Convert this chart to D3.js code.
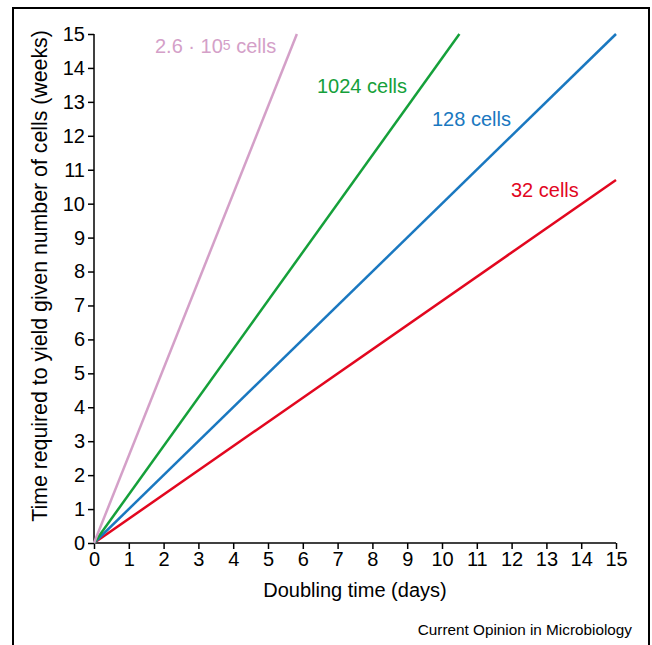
<!DOCTYPE html>
<html><head><meta charset="utf-8">
<script src="https://cdn.jsdelivr.net/npm/d3@7"></script>
<style>body{margin:0;background:#fff;} text{font-family:"Liberation Sans",Arial,sans-serif;}</style>
</head><body>
<svg id="c" width="652" height="645"></svg>
<script>
const xTicks = [0,1,2,3,4,5,6,7,8,9,10,11,12,13,14,15];
const yTicks = [0,1,2,3,4,5,6,7,8,9,10,11,12,13,14,15];
const seriesNames = ["32 cells","128 cells","1024 cells","2.6 · 10^5 cells"];
const series32   = [[0,0],[15,10.7]];
const series128  = [[0,0],[15,15]];
const series1024 = [[0,0],[10.5,15]];
const series26e5 = [[0,0],[5.83,15]];
const colors = ["#e2071f","#1a78c0","#15a03a","#d4a0c8"];

const svg = d3.select("#c");
svg.append("rect").attr("x",13).attr("y",8).attr("width",636).attr("height",650)
  .attr("fill","none").attr("stroke","#000").attr("stroke-width",2);

const x = d3.scaleLinear().domain([0,15]).range([94,616]);
const y = d3.scaleLinear().domain([0,15]).range([543,34]);

const xa = svg.append("g").attr("transform","translate(0,543)")
  .call(d3.axisBottom(x).tickValues(xTicks).tickSize(6).tickPadding(3).tickFormat(d3.format("d")));
const ya = svg.append("g").attr("transform","translate(94,0)")
  .call(d3.axisLeft(y).tickValues(yTicks).tickSize(6).tickPadding(3).tickFormat(d3.format("d")));
[xa,ya].forEach(a=>{
  a.select(".domain").attr("stroke","#000").attr("stroke-width",1.5);
  a.selectAll(".tick line").attr("stroke","#000").attr("stroke-width",1.5);
  a.selectAll(".tick text").attr("font-size",20).attr("fill","#000").style("font-family","Liberation Sans, Arial, sans-serif");
});
xa.select(".domain").attr("d","M94,0H616");
ya.select(".domain").attr("d","M0,543V34");

const line = d3.line().x(d=>x(d[0])).y(d=>y(d[1]));
const all = [series32,series128,series1024,series26e5];
all.forEach((s,i)=>{
  svg.append("path").attr("d",line(s)).attr("fill","none")
    .attr("stroke",colors[i]).attr("stroke-width",2.5);
});

// labels
const labels = [
  {t:"32 cells", x:511, y:197, c:colors[0]},
  {t:"128 cells", x:432, y:126, c:colors[1]},
  {t:"1024 cells", x:317, y:93, c:colors[2]},
];
labels.forEach(l=>{
  svg.append("text").attr("x",l.x).attr("y",l.y).attr("font-size",20).attr("fill",l.c).text(l.t);
});
const pl = svg.append("text").attr("x",155).attr("y",53).attr("font-size",20).attr("fill",colors[3]);
pl.append("tspan").text("2.6 · 10");
pl.append("tspan").attr("font-size",14).attr("dy",-3).text("5");
pl.append("tspan").attr("dy",3).text(" cells");

svg.append("text").attr("x",355).attr("y",597).attr("text-anchor","middle").attr("font-size",20).attr("fill","#000").text("Doubling time (days)");
svg.append("text").attr("transform","translate(47,276) rotate(-90)").attr("text-anchor","middle").attr("font-size",21.3).attr("fill","#000").text("Time required to yield given number of cells (weeks)");
svg.append("text").attr("x",632).attr("y",635).attr("text-anchor","end").attr("font-size",15.3).attr("fill","#000").text("Current Opinion in Microbiology");
</script>
</body></html>
